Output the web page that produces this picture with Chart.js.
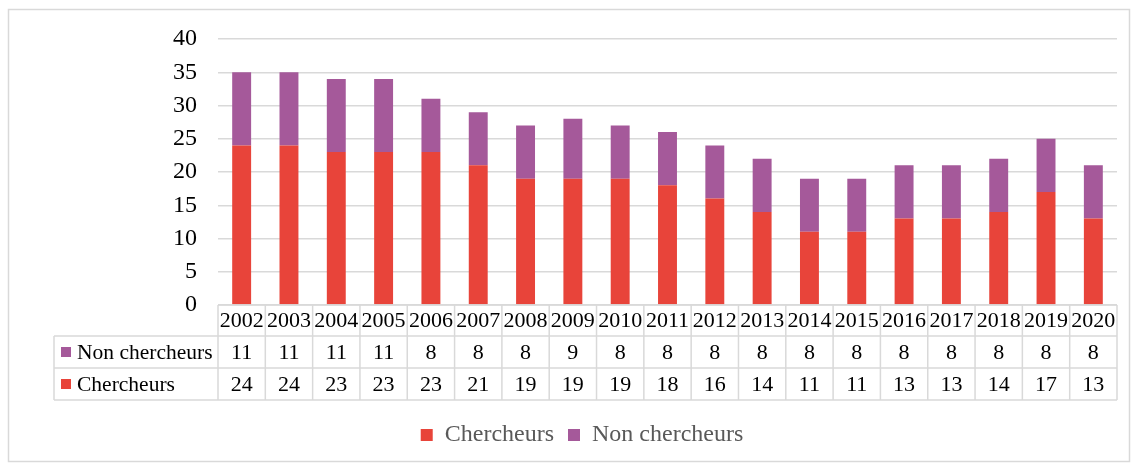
<!DOCTYPE html>
<html>
<head>
<meta charset="utf-8">
<script src="https://cdn.jsdelivr.net/npm/chart.js@4"></script>
<style>
  html, body { margin: 0; padding: 0; background: #fff; }
  #wrap { width: 1137px; height: 464px; }
</style>
</head>
<body>
<div id="wrap"><canvas id="chart" width="1137" height="464"></canvas></div>
<script>
// Données du graphique
const years = ['2002', '2003', '2004', '2005', '2006', '2007', '2008', '2009', '2010', '2011',
  '2012', '2013', '2014', '2015', '2016', '2017', '2018', '2019', '2020'];
const chercheurs = [24, 24, 23, 23, 23, 21, 19, 19, 19, 18, 16, 14, 11, 11, 13, 13, 14, 17, 13];
const nonChercheurs = [11, 11, 11, 11, 8, 8, 8, 9, 8, 8, 8, 8, 8, 8, 8, 8, 8, 8, 8];
const yTicks = [0, 5, 10, 15, 20, 25, 30, 35, 40];

const RED = '#E8443A';
const PURPLE = '#A5599A';
const GRID = '#d9d9d9';
const FONT = '"Liberation Serif", "Times New Roman", serif';

// Cadre extérieur + tableau de données sous les barres
const tablePlugin = {
  id: 'dataTable',
  beforeDraw(chart) {
    const ctx = chart.ctx;
    ctx.save();
    ctx.strokeStyle = GRID;
    ctx.lineWidth = 1.5;
    ctx.strokeRect(8.5, 9.5, 1121, 452);
    ctx.restore();
  },
  afterDraw(chart) {
    const ctx = chart.ctx;
    const x = chart.scales.x;
    const area = chart.chartArea;
    const colW = (area.right - area.left) / years.length;
    const labelLeft = 54;
    const rows = [area.bottom, area.bottom + 31, area.bottom + 63, area.bottom + 95];

    ctx.save();
    ctx.strokeStyle = GRID;
    ctx.lineWidth = 1.5;
    ctx.beginPath();
    ctx.moveTo(area.left, rows[0]);
    ctx.lineTo(area.right, rows[0]);
    for (let r = 1; r < rows.length; r++) {
      ctx.moveTo(labelLeft, rows[r]);
      ctx.lineTo(area.right, rows[r]);
    }
    ctx.moveTo(labelLeft, rows[1]);
    ctx.lineTo(labelLeft, rows[3]);
    for (let i = 0; i <= years.length; i++) {
      const px = area.left + i * colW;
      ctx.moveTo(px, rows[0]);
      ctx.lineTo(px, rows[3]);
    }
    ctx.stroke();

    ctx.fillStyle = '#000';
    ctx.font = '22px ' + FONT;
    ctx.textAlign = 'center';
    ctx.textBaseline = 'middle';
    years.forEach((yr, i) => {
      const cx = x.getPixelForValue(i);
      ctx.fillText(yr, cx, (rows[0] + rows[1]) / 2 + 1);
      ctx.fillText(String(nonChercheurs[i]), cx, (rows[1] + rows[2]) / 2 + 1);
      ctx.fillText(String(chercheurs[i]), cx, (rows[2] + rows[3]) / 2 + 1);
    });

    // Libellés des lignes
    const labels = [['Non chercheurs', PURPLE], ['Chercheurs', RED]];
    ctx.textAlign = 'left';
    ctx.font = '21.5px ' + FONT;
    labels.forEach(([txt, col], r) => {
      const cy = (rows[r + 1] + rows[r + 2]) / 2;
      ctx.fillStyle = col;
      ctx.fillRect(61, cy - 5, 10, 10);
      ctx.fillStyle = '#000';
      ctx.fillText(txt, 77, cy + 1);
    });
    ctx.restore();
  }
};

new Chart(document.getElementById('chart'), {
  type: 'bar',
  data: {
    labels: years,
    datasets: [
      { label: 'Chercheurs', data: chercheurs, backgroundColor: RED },
      { label: 'Non chercheurs', data: nonChercheurs, backgroundColor: PURPLE }
    ]
  },
  options: {
    responsive: false,
    animation: false,
    layout: { padding: { left: 47, right: 20, top: 39, bottom: 7 } },
    datasets: { bar: { categoryPercentage: 1, barPercentage: 0.4 } },
    scales: {
      x: {
        stacked: true,
        grid: { display: false },
        border: { display: false },
        ticks: { display: false },
        afterFit(axis) { axis.height = 104; }
      },
      y: {
        stacked: true,
        min: 0,
        max: 40,
        afterBuildTicks(axis) { axis.ticks = yTicks.map(v => ({ value: v })); },
        afterFit(axis) { axis.width = 171; },
        grid: { color: GRID, lineWidth: 1.5, drawTicks: false },
        border: { display: false },
        ticks: { color: '#000', padding: 21, font: { family: FONT, size: 24 } }
      }
    },
    plugins: {
      tooltip: { enabled: false },
      legend: {
        position: 'bottom',
        labels: {
          color: '#595959',
          boxWidth: 12,
          boxHeight: 12,
          padding: 14,
          font: { family: FONT, size: 24 }
        }
      }
    }
  },
  plugins: [tablePlugin]
});
</script>
</body>
</html>
